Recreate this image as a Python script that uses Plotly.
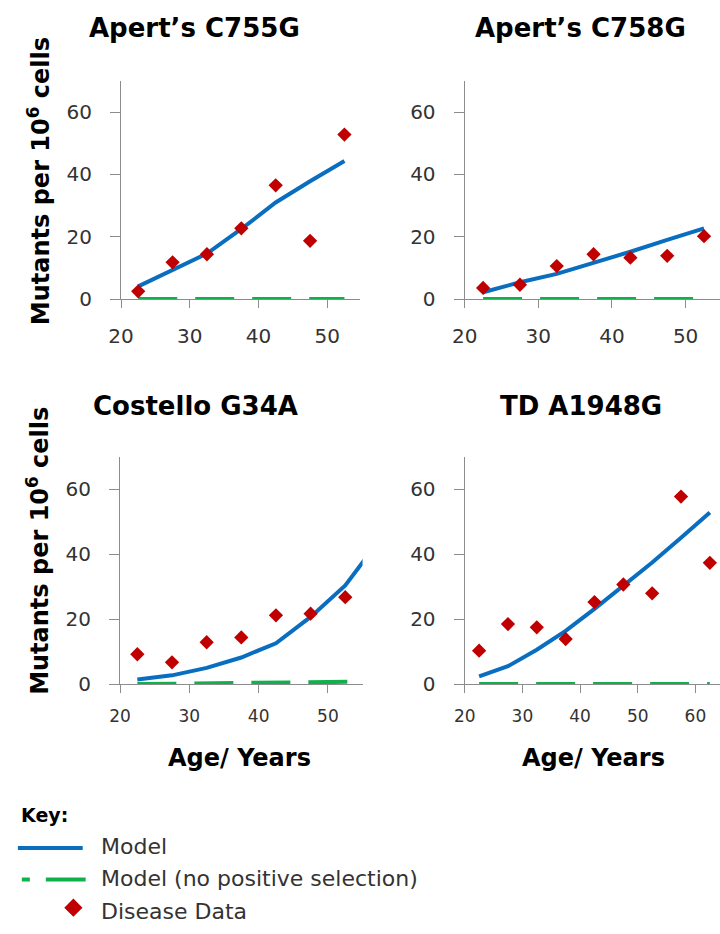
import plotly.graph_objects as go

# ---- data -------------------------------------------------------------
titles = ["Apert\u2019s C755G", "Apert\u2019s C758G", "Costello G34A", "TD A1948G"]

age_7 = [22.5, 27.5, 32.5, 37.5, 42.5, 47.5, 52.5]
age_8 = [22.5, 27.5, 32.5, 37.5, 42.5, 47.5, 52.5, 57.5]
age_9 = [22.5, 27.5, 32.5, 37.5, 42.5, 47.5, 52.5, 57.5, 62.5]

# Apert's C755G
c755g_data = [2.5, 11.8, 14.4, 22.7, 36.5, 18.7, 52.8]
c755g_model = [4.1, 9.2, 14.6, 22.5, 31.0, 37.8, 44.3]
c755g_nosel = [0, 0, 0, 0, 0, 0, 0]

# Apert's C758G
c758g_data = [3.6, 4.6, 10.6, 14.4, 13.3, 13.9, 20.2]
c758g_model = [2.2, 5.4, 8.1, 11.5, 15.2, 19.0, 22.7]
c758g_nosel = [0, 0, 0, 0, 0, 0, 0]

# Costello G34A
g34a_data = [9.2, 6.7, 12.9, 14.4, 21.2, 21.7, 26.8]
g34a_model = [1.4, 2.7, 5.0, 8.2, 12.6, 20.7, 30.4, 44.6]
g34a_nosel = [0.0, 0.1, 0.4, 0.5, 0.6, 0.6, 0.7, 0.8]

# TD A1948G
a1948g_data = [10.3, 18.5, 17.5, 13.9, 25.3, 30.7, 28.0, 57.8, 37.4]
a1948g_model = [2.4, 5.5, 10.6, 16.4, 23.2, 30.4, 37.5, 45.1, 52.9]
a1948g_nosel = [0, 0, 0, 0, 0, 0, 0, 0, 0]

y_ticks = [0, 20, 40, 60]
x_ticks_50 = [20, 30, 40, 50]
x_ticks_60 = [20, 30, 40, 50, 60]

key_labels = ["Model", "Model (no positive selection)", "Disease Data"]

# ---- styling ----------------------------------------------------------
W, H = 720, 934
FONT = "DejaVu Sans"
BLUE = "#0A6EC0"
GREEN = "#10B14C"
RED = "#C00000"
AXIS = "#8C8C8C"
TICKTXT = "#333333"


def px_x(p):
    return p / W


def px_y(p):
    return 1 - p / H


panels = [
    # (axis suffix, x domain px, y domain px, x range, x ticks, x tick size, x label gap)
    ("", (110, 353), (82, 303), [20, 54.71], x_ticks_50, 20, 11),
    ("2", (460, 720), (82, 303), [20, 54.67], x_ticks_50, 20, 11),
    ("3", (109, 356), (463, 693), [20, 55.0], x_ticks_50, 17, 8),
    ("4", (460, 720), (463, 693), [20, 64.26], x_ticks_60, 17, 8),
]

series = [
    (age_7, c755g_model, age_7, c755g_nosel, age_7, c755g_data),
    (age_7, c758g_model, age_7, c758g_nosel, age_7, c758g_data),
    (age_8, g34a_model, age_8, g34a_nosel, age_7, g34a_data),
    (age_9, a1948g_model, age_9, a1948g_nosel, age_9, a1948g_data),
]

fig = go.Figure()

for (sfx, xd, yd, xr, xt, tfs, gap), (mx, my, nx, ny, dx, dy) in zip(panels, series):
    xa, ya = "x" + sfx, "y" + sfx
    fig.add_trace(go.Scatter(x=nx, y=ny, mode="lines", xaxis=xa, yaxis=ya,
                             line=dict(color=GREEN, width=4, dash="39px,18px"),
                             name="Model (no positive selection)", showlegend=False,
                             hoverinfo="skip"))
    fig.add_trace(go.Scatter(x=mx, y=my, mode="lines", xaxis=xa, yaxis=ya,
                             line=dict(color=BLUE, width=4), name="Model",
                             showlegend=False))
    fig.add_trace(go.Scatter(x=dx, y=dy, mode="markers", xaxis=xa, yaxis=ya,
                             marker=dict(symbol="diamond", size=11, color=RED),
                             name="Disease Data", showlegend=False, cliponaxis=False))

    common = dict(showline=True, linecolor=AXIS, linewidth=1.2, ticks="outside",
                  tickcolor=AXIS, tickwidth=1.2, showgrid=False, zeroline=False,
                  fixedrange=True)
    fig.layout["xaxis" + sfx] = dict(
        domain=[px_x(xd[0]), px_x(xd[1])], range=xr, tickvals=xt,
        ticklen=8, anchor=ya,
        tickfont=dict(family=FONT, size=tfs, color=TICKTXT),
        ticklabelstandoff=gap, **common)
    fig.layout["yaxis" + sfx] = dict(
        domain=[px_y(yd[1]), px_y(yd[0])], range=[0, 70], tickvals=y_ticks,
        ticklen=10, anchor=xa,
        tickfont=dict(family=FONT, size=20, color=TICKTXT),
        ticklabelstandoff=14, **common)

# ---- key (drawn on its own pixel-scaled axes) -------------------------
key_line_x = [5, 71]
key_dash_x = [9, 74]
key_marker_x = [61.5]
key_rows_y = [859, 891, 919.5]

fig.add_trace(go.Scatter(x=key_line_x, y=[key_rows_y[0]] * 2, mode="lines",
                         xaxis="x5", yaxis="y5", showlegend=False,
                         line=dict(color=BLUE, width=4), hoverinfo="skip"))
fig.add_trace(go.Scatter(x=key_dash_x, y=[key_rows_y[1]] * 2, mode="lines",
                         xaxis="x5", yaxis="y5", showlegend=False,
                         line=dict(color=GREEN, width=4, dash="8px,16px,41px,16px"),
                         hoverinfo="skip"))
fig.add_trace(go.Scatter(x=key_marker_x, y=[key_rows_y[2]], mode="markers",
                         xaxis="x5", yaxis="y5", showlegend=False,
                         marker=dict(symbol="diamond", size=14, color=RED),
                         hoverinfo="skip"))
fig.layout["xaxis5"] = dict(domain=[0, 1], range=[0, W], visible=False,
                            fixedrange=True, anchor="y5")
fig.layout["yaxis5"] = dict(domain=[0, px_y(800)], range=[H, 800], visible=False,
                            fixedrange=True, anchor="x5")

ann = []
# panel titles
title_pos = [(185, 28), (577.5, 28), (186, 411), (578.5, 411)]
for t, (cx, cy) in zip(titles, title_pos):
    ann.append(dict(text="<b>" + t + "</b>", x=px_x(cx), y=px_y(cy),
                    xref="paper", yref="paper", showarrow=False,
                    xanchor="center", yanchor="middle",
                    font=dict(family=FONT, size=26, color="#000000")))
# y-axis titles
for cy in (184, 558.5):
    ann.append(dict(text="<b>Mutants per 10<sup>6</sup> cells</b>", x=px_x(26), y=px_y(cy),
                    xref="paper", yref="paper", showarrow=False, textangle=-90,
                    xanchor="center", yanchor="middle",
                    font=dict(family=FONT, size=24, color="#000000")))
# x-axis titles
for cx in (230.5, 591.5):
    ann.append(dict(text="<b>Age/ Years</b>", x=px_x(cx), y=px_y(768),
                    xref="paper", yref="paper", showarrow=False,
                    xanchor="center", yanchor="middle",
                    font=dict(family=FONT, size=24, color="#000000")))
# key text
ann.append(dict(text="<b>Key:</b>", x=px_x(6), y=px_y(826), xref="paper", yref="paper",
                showarrow=False, xanchor="left", yanchor="middle",
                font=dict(family=FONT, size=19, color="#000000")))
for lab, ry in zip(key_labels, (858, 890, 923)):
    ann.append(dict(text=lab, x=px_x(88), y=px_y(ry), xref="paper", yref="paper",
                    showarrow=False, xanchor="left", yanchor="middle",
                    font=dict(family=FONT, size=22, color=TICKTXT)))

fig.update_layout(width=W, height=H, margin=dict(l=0, r=0, t=0, b=0),
                  paper_bgcolor="white", plot_bgcolor="white",
                  annotations=ann, showlegend=False)

fig.write_html("out.html")
